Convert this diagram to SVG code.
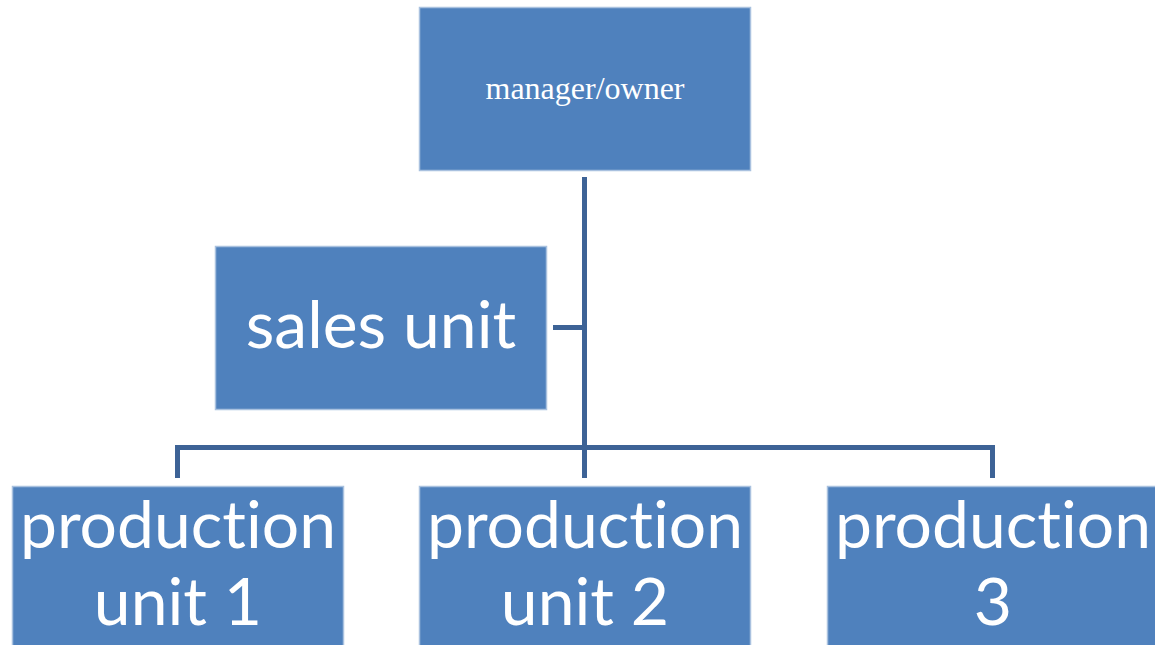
<svg xmlns="http://www.w3.org/2000/svg" width="1155" height="645" viewBox="0 0 1155 645">
<style>
.box{fill:#4F81BD;stroke:#A9C1DF;stroke-width:1.5}
.lbl{fill:#FFFFFF;font-family:Lato,"Open Sans","Liberation Sans",sans-serif;font-size:66px;text-anchor:middle;font-variant-ligatures:none;font-feature-settings:"liga" 0}
.ser{fill:#FFFFFF;font-family:"Liberation Serif","DejaVu Serif",serif;font-size:32px;text-anchor:middle}
.con{fill:none;stroke:#3D6396;stroke-width:5;stroke-linecap:butt;stroke-linejoin:miter}
</style>
<rect width="1155" height="645" fill="#FFFFFF"/>
<g id="connectors">
<path class="con" d="M584.5 177 V478"/>
<path class="con" d="M553 327.5 H584.5"/>
<path class="con" d="M177.5 478 V447.5 H992.5 V478"/>
</g>
<g id="manager">
<rect class="box" x="419.5" y="7.5" width="331" height="163"/>
<text class="ser" x="585" y="99">manager/owner</text>
</g>
<g id="sales">
<rect class="box" x="215.5" y="246.5" width="331" height="163"/>
<text class="lbl" x="381" y="348">sales unit</text>
</g>
<g id="prod1">
<rect class="box" x="12.5" y="486.5" width="331" height="170"/>
<text class="lbl" x="178" y="548">production</text>
<text class="lbl" x="178" y="625">unit 1</text>
</g>
<g id="prod2">
<rect class="box" x="419.5" y="486.5" width="331" height="170"/>
<text class="lbl" x="585" y="548">production</text>
<text class="lbl" x="585" y="625">unit 2</text>
</g>
<g id="prod3">
<rect class="box" x="827.5" y="486.5" width="331" height="170"/>
<text class="lbl" x="993" y="548">production</text>
<text class="lbl" x="993" y="625">3</text>
</g>
</svg>
